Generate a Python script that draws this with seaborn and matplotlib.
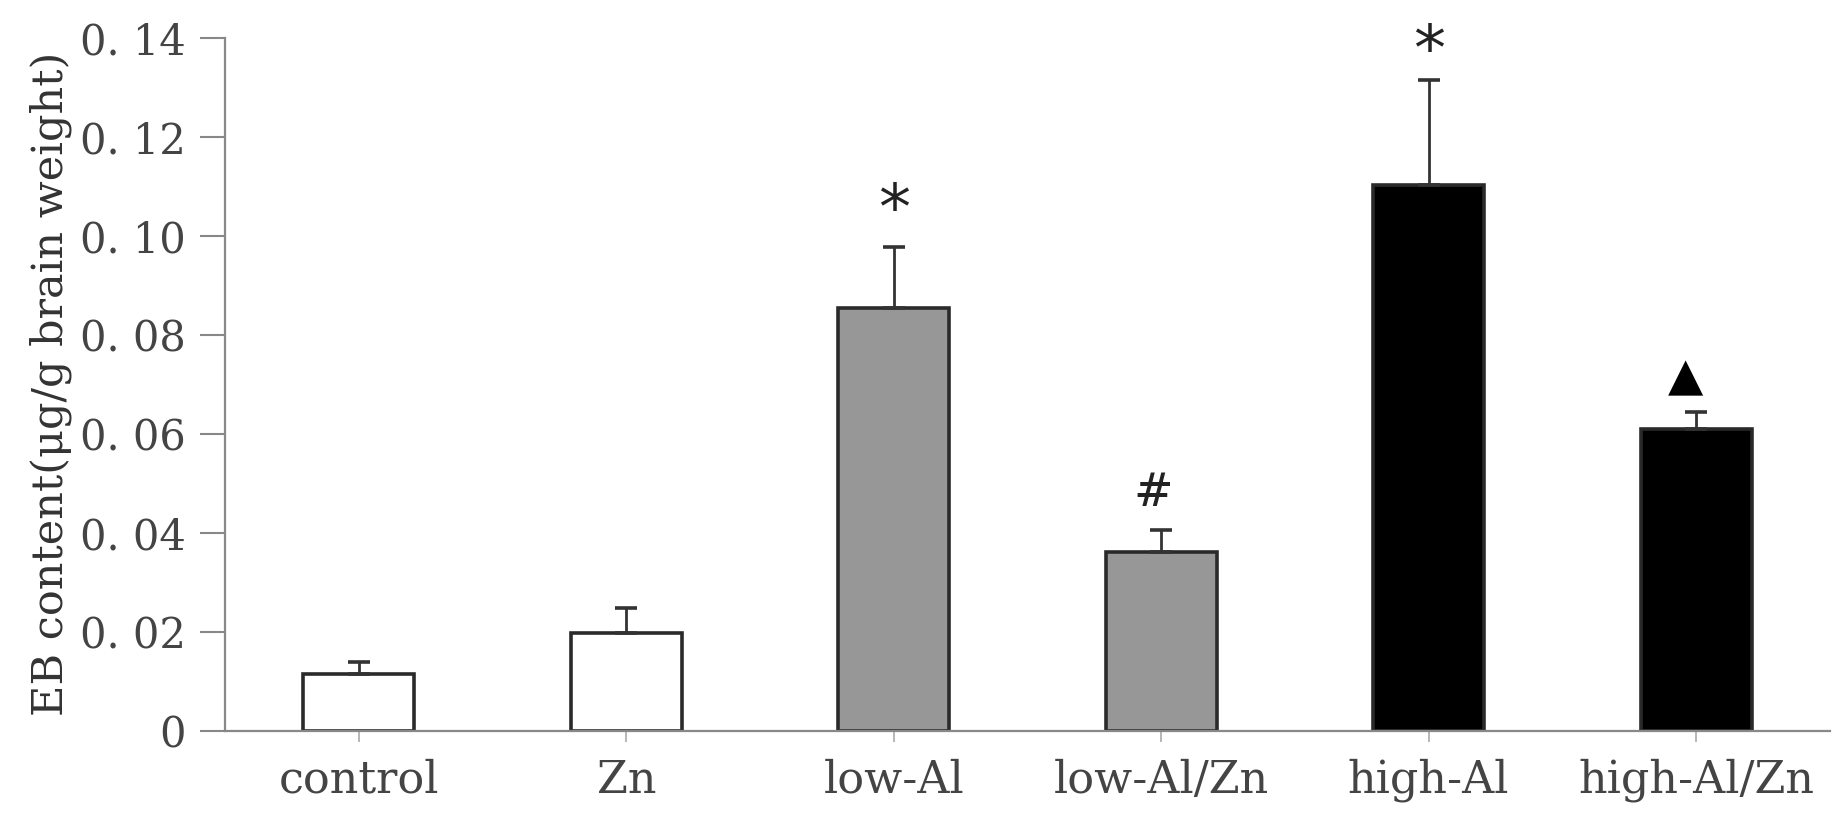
import numpy as np
import pandas as pd
import seaborn as sns
import matplotlib.pyplot as plt

# ----------------------
# Data
# ----------------------
groups = ['control', 'Zn', 'low-Al', 'low-Al/Zn', 'high-Al', 'high-Al/Zn']
means = [0.0116, 0.0197, 0.0853, 0.0362, 0.1103, 0.0610]
sems = [0.0024, 0.0052, 0.0125, 0.0043, 0.0212, 0.0034]
bar_colors = ['white', 'white', '#979797', '#979797', 'black', 'black']
marks = ['', '', '*', '#', '*', '\u25B2']
mark_y = [0, 0, 0.1050, 0.0480, 0.1370, 0.0712]
yticks = [0, 0.02, 0.04, 0.06, 0.08, 0.10, 0.12, 0.14]
ytick_labels = ['0', '0. 02', '0. 04', '0. 06', '0. 08', '0. 10', '0. 12', '0. 14']

df = pd.DataFrame({'group': groups, 'value': means})

# ----------------------
# Style
# ----------------------
sns.set_style('white')
plt.rcParams['font.family'] = ['DejaVu Serif', 'DejaVu Sans']

fig = plt.figure(figsize=(18.39, 8.35), dpi=100)
ax = fig.add_axes([0.1224, 0.1246, 0.8726, 0.8304])

sns.barplot(data=df, x='group', y='value', order=groups, palette=bar_colors,
            hue='group', legend=False, width=0.415, edgecolor='#2a2a2a',
            linewidth=2.6, saturation=1, errorbar=None, ax=ax)

# upper-only error bars on the categorical positions
pos = np.arange(len(groups))
ax.errorbar(pos, means, yerr=[np.zeros(len(sems)), sems], fmt='none',
            ecolor='#333333', elinewidth=2.0, capsize=8, capthick=2.6, zorder=3)

# significance marks
for i, (m, y) in enumerate(zip(marks, mark_y)):
    if not m:
        continue
    if m == '\u25B2':
        ax.text(pos[i] - 0.04, y, m, ha='center', va='center', fontsize=33,
                color='black', family=['DejaVu Sans'])
    elif m == '*':
        ax.text(pos[i], y, m, ha='center', va='center', fontsize=46,
                color='#222222', family=['DejaVu Sans'])
    else:
        ax.text(pos[i] - 0.03, y, m, ha='center', va='center', fontsize=34,
                color='#222222')

# ----------------------
# Axes
# ----------------------
ax.set_xlim(-0.5, 5.5)
ax.set_ylim(0, 0.14)
ax.set_yticks(yticks)
ax.set_yticklabels(ytick_labels)
ax.set_xlabel('')
ax.set_ylabel('EB content(\u03bcg/g brain weight)', fontsize=31, color='#333333', labelpad=6)

ax.tick_params(axis='y', direction='out', length=18, width=1.5, color='#888888',
               labelsize=30, labelcolor='#444444', pad=10, left=True)
ax.tick_params(axis='x', direction='out', length=8, width=1.2, color='#aaaaaa',
               labelsize=32, labelcolor='#444444', pad=12, bottom=True)

sns.despine(ax=ax)
for side in ['left', 'bottom']:
    ax.spines[side].set_color('#888888')
    ax.spines[side].set_linewidth(1.6)

fig.savefig('out.png', dpi=100, facecolor='white')
plt.close(fig)
